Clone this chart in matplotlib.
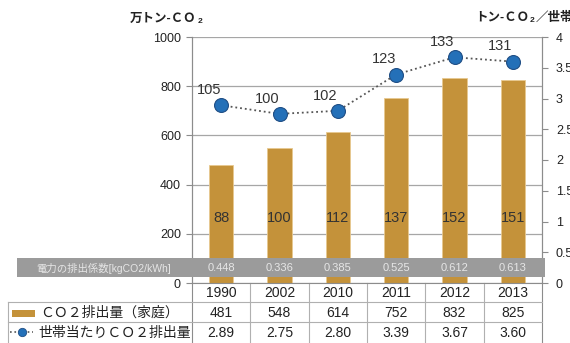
import numpy as np
import matplotlib
matplotlib.use('Agg')
import matplotlib.pyplot as plt
from matplotlib.lines import Line2D
from matplotlib.patches import Rectangle

plt.rcParams['font.family'] = ['Liberation Sans', 'Noto Sans CJK JP']

years = ['1990', '2002', '2010', '2011', '2012', '2013']
co2_home = [481, 548, 614, 752, 832, 825]          # 万トン-CO2
co2_per_house = [2.89, 2.75, 2.80, 3.39, 3.67, 3.60]  # トン-CO2/世帯
house_index = [105, 100, 102, 123, 133, 131]
home_index = [88, 100, 112, 137, 152, 151]
elec_factor = ['0.448', '0.336', '0.385', '0.525', '0.612', '0.613']

BAR = '#C4923A'
DOT = '#2470B8'
GRID = '#A6A6A6'

W, H = 570, 343
fig = plt.figure(figsize=(W / 100, H / 100), dpi=100)

# plot area in pixels
x0, x1, ytop, ybot = 192, 542, 37, 283
ax = fig.add_axes([x0 / W, (H - ybot) / H, (x1 - x0) / W, (ybot - ytop) / H])
ax2 = ax.twinx()

x = np.arange(len(years))
ax.bar(x, co2_home, width=0.42, color=BAR, edgecolor='#E8C98F', lw=0.6, zorder=2)
ax.set_xlim(-0.5, len(years) - 0.5)
ax.set_ylim(0, 1000)
ax.set_yticks(range(0, 1001, 200))
ax.yaxis.grid(True, color=GRID, lw=0.9)
ax.set_axisbelow(True)
ax.set_xticks([])
for i, v in enumerate(home_index):
    ax.text(x[i], 265, str(v), ha='center', va='center', fontsize=10.5, color='#333333', zorder=3)

ax2.plot(x, co2_per_house, ls=':', lw=1.3, color='#555555', marker='o', ms=10,
         mfc=DOT, mec='#1F4E85', mew=0.8, zorder=4)
ax2.set_ylim(0, 4)
ax2.set_yticks(np.arange(0, 4.01, 0.5))
ax2.set_yticklabels(['0', '0.5', '1', '1.5', '2', '2.5', '3', '3.5', '4'])
for i, v in enumerate(house_index):
    ax2.annotate(str(v), (x[i], co2_per_house[i]), xytext=(-9, 11),
                 textcoords='offset points', ha='center', va='center',
                 fontsize=10.5, color='#333333')

for a in (ax, ax2):
    for s in a.spines.values():
        s.set_color('#8C8C8C')
    a.spines['top'].set_visible(False)
    a.spines['bottom'].set_visible(False)
    a.tick_params(axis='y', colors='#8C8C8C', labelcolor='#222222', labelsize=9,
                  length=4, width=0.8)
ax.tick_params(axis='y', pad=4)
ax2.tick_params(axis='y', pad=6)

# overlay in pixel coordinates for the band and the data table
ov = fig.add_axes([0, 0, 1, 1], zorder=5)
ov.set_xlim(0, W)
ov.set_ylim(H, 0)
ov.set_axis_off()

ov.add_patch(Rectangle((17, 258), 528, 19, color='#9B9B9B', lw=0))
ov.text(104, 268, '電力の排出係数[kgCO2/kWh]', ha='center', va='center',
        fontsize=7.5, color='#E6E6E6')

colw = (x1 - x0) / len(years)
cx = [x0 + (i + 0.5) * colw for i in range(len(years))]
for i in range(len(years)):
    ov.text(cx[i], 268, elec_factor[i], ha='center', va='center', fontsize=8, color='#E6E6E6')
    ov.text(cx[i], 293, years[i], ha='center', va='center', fontsize=10, color='#222222')
    ov.text(cx[i], 313, str(co2_home[i]), ha='center', va='center', fontsize=10, color='#222222')
    ov.text(cx[i], 333, f'{co2_per_house[i]:.2f}', ha='center', va='center', fontsize=10, color='#222222')

lc = '#B0B0B0'
for i in range(1, len(years)):
    ov.plot([x0 + i * colw] * 2, [283, 343], color=lc, lw=0.8)
ov.plot([x0, x0], [283, 343], color='#8C8C8C', lw=0.8)
ov.plot([x1, x1], [283, 343], color='#8C8C8C', lw=0.8)
ov.plot([8, 8], [302, 343], color=lc, lw=0.8)
ov.plot([x0, x1], [283, 283], color='#8C8C8C', lw=0.8)
ov.plot([8, x1], [302, 302], color=lc, lw=0.8)
ov.plot([8, x1], [322, 322], color=lc, lw=0.8)

# legend cells
ov.add_patch(Rectangle((12, 310), 23, 7, color=BAR, lw=0))
ov.text(40, 313, 'ＣＯ２排出量（家庭）', ha='left', va='center', fontsize=10, color='#222222')
ov.add_line(Line2D([10, 33], [332, 332], ls=':', lw=1.2, color='#555555'))
ov.plot([22], [332], marker='o', ms=6, mfc=DOT, mec='#1F4E85', mew=0.6)
ov.text(38, 333, '世帯当たりＣＯ２排出量', ha='left', va='center', fontsize=10, color='#222222')

# axis unit labels, the subscript 2 chained after each piece
kw = dict(fontweight='bold', color='#222222')
t = ov.text(130, 19, '万トン-ＣＯ', ha='left', va='center', fontsize=9, **kw)
ov.annotate('2', xy=(1, 0), xycoords=t, xytext=(0.5, 0), textcoords='offset points',
            ha='left', va='bottom', fontsize=6, **kw)
t = ov.text(475, 18, 'トン-ＣＯ', ha='left', va='center', fontsize=9, **kw)
s = ov.annotate('2', xy=(1, 0), xycoords=t, xytext=(0.5, 0), textcoords='offset points',
                ha='left', va='bottom', fontsize=6, **kw)
ov.annotate('／世帯', xy=(1, 0), xycoords=s, xytext=(0.5, 0), textcoords='offset points',
            ha='left', va='bottom', fontsize=9, **kw)

fig.savefig('out.png', dpi=100)
